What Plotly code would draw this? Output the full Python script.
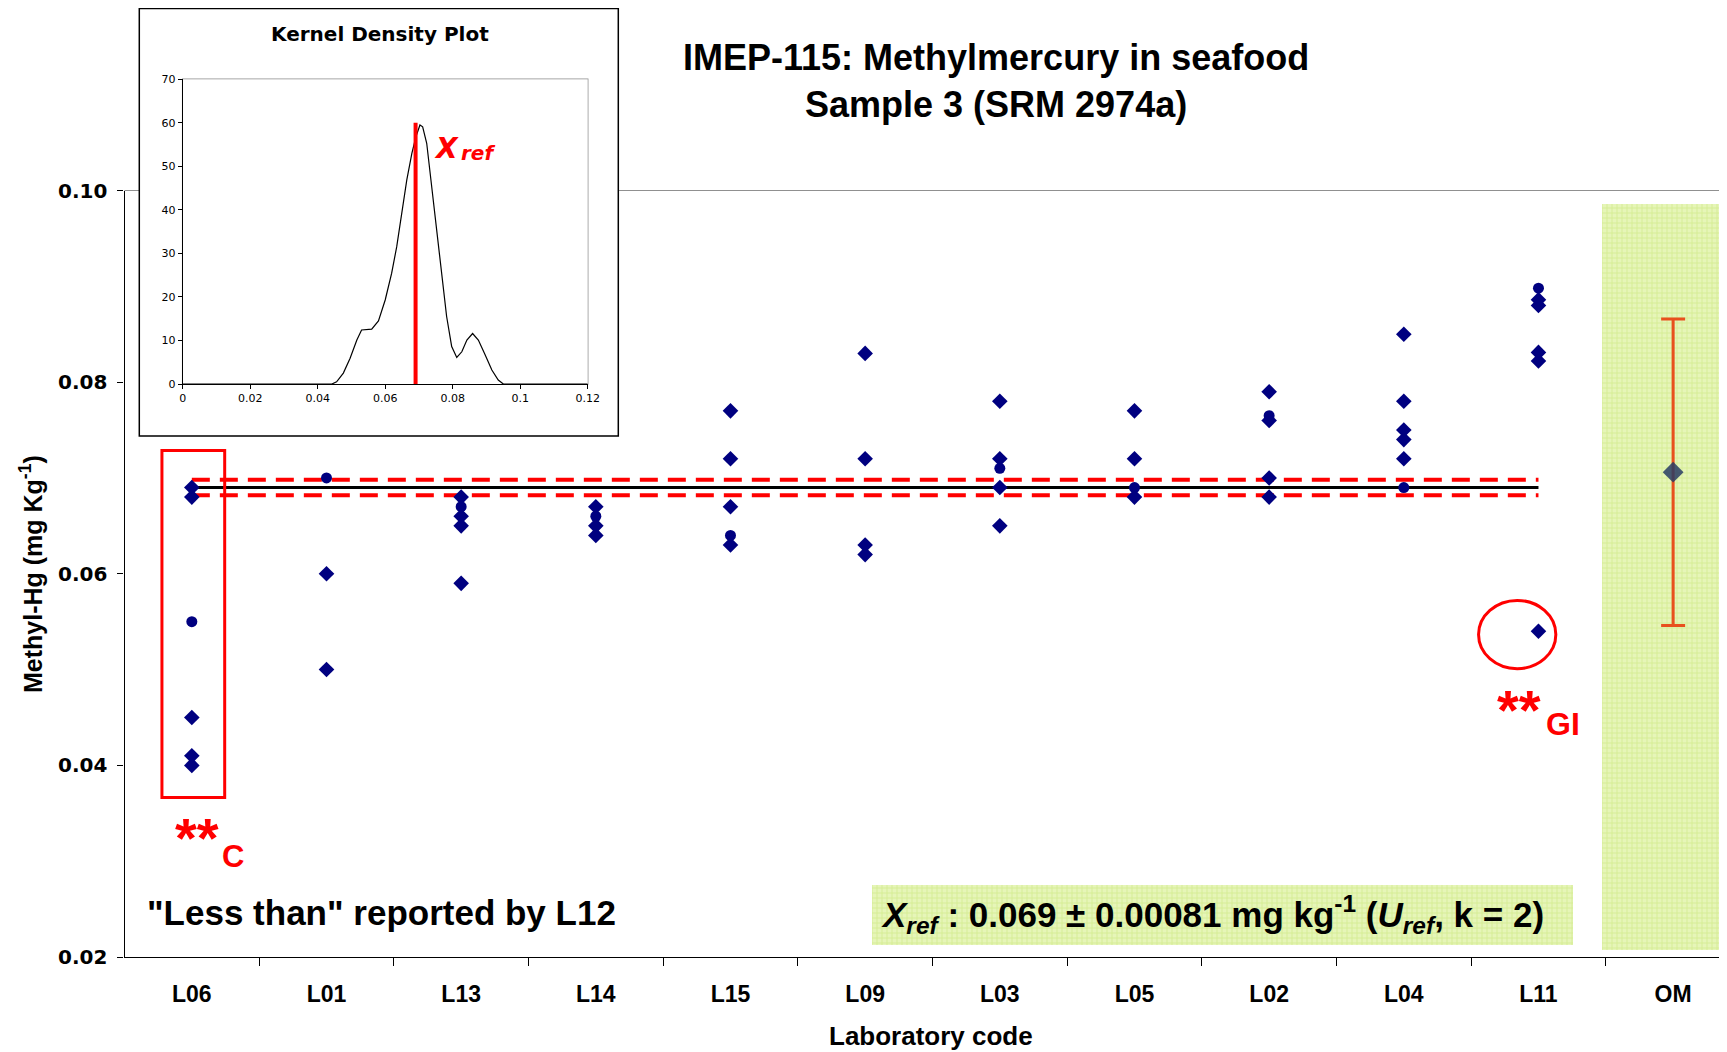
import plotly.graph_objects as go

# ---------------- data ----------------
labs = ["L06", "L01", "L13", "L14", "L15", "L09", "L03", "L05", "L02", "L04", "L11", "OM"]

# replicate results plotted as diamonds (one list per laboratory, OM excluded)
diamond_vals = [
    [0.069, 0.068, 0.045, 0.041, 0.040],
    [0.060, 0.050],
    [0.068, 0.066, 0.065, 0.059],
    [0.067, 0.065, 0.064],
    [0.077, 0.072, 0.067, 0.063],
    [0.083, 0.072, 0.063, 0.062],
    [0.078, 0.072, 0.069, 0.065],
    [0.077, 0.072, 0.068],
    [0.079, 0.076, 0.070, 0.068],
    [0.085, 0.078, 0.075, 0.074, 0.072],
    [0.0886, 0.0880, 0.0831, 0.0822, 0.054],
]
# results plotted as circles
circle_vals = [[0.055], [0.070], [0.067], [0.066], [0.064], [], [0.071], [0.069], [0.0765], [0.069], [0.0898]]

x_ref = 0.069
u_ref = 0.00081
om_value = 0.0706
om_error = 0.016

# kernel density (inset)
kde_x = [0.0, 0.0442, 0.0456, 0.0476, 0.0496, 0.0516, 0.0530, 0.0560, 0.0580, 0.0600, 0.0619,
         0.0634, 0.0649, 0.0664, 0.0679, 0.0691, 0.0703, 0.0711, 0.0723, 0.0738, 0.0753,
         0.0767, 0.0782, 0.0797, 0.0812, 0.0827, 0.0842, 0.0859, 0.0876, 0.0896, 0.0916,
         0.0935, 0.0950, 0.12]
kde_y = [0.0, 0.0, 0.5, 2.5, 5.9, 10.1, 12.4, 12.6, 14.5, 19.3, 25.4,
         31.5, 39.2, 46.9, 53.0, 56.8, 59.5, 59.1, 55.3, 45.3, 36.1,
         25.4, 15.5, 8.6, 6.1, 7.4, 10.1, 11.6, 10.1, 6.7, 3.2,
         0.9, 0.0, 0.0]
kde_xticks = [0, 0.02, 0.04, 0.06, 0.08, 0.1, 0.12]
kde_xticktext = ["0", "0.02", "0.04", "0.06", "0.08", "0.1", "0.12"]
kde_yticks = [0, 10, 20, 30, 40, 50, 60, 70]
y_ticks = [0.02, 0.04, 0.06, 0.08, 0.10]
y_ticktext = ["0.02", "0.04", "0.06", "0.08", "0.10"]

# ---------------- figure geometry ----------------
OFF = 8                      # page body margin
W, H = 1727 - OFF, 1052 - OFF


def xp(px):
    return (px - OFF) / W


def yp(py):
    return (H - (py - OFF)) / H


NAVY = "#000080"
RED = "#FF0000"
NARROW = "Liberation Sans Narrow, Arial Narrow, Liberation Sans, Arial"
ARIAL = "Liberation Sans, Arial"
VERD = "DejaVu Sans, Verdana"

fig = go.Figure()

lab_idx = {l: i for i, l in enumerate(labs)}
hatch = dict(color="#e4f4b4", line=dict(width=0),
             pattern=dict(shape="+", fgcolor="#bfe06a", bgcolor="#e6f5b8", size=5, solidity=0.3))

# OM green band (hatched)
fig.add_trace(go.Bar(x=[10.94], y=[0.0986 - 0.0208], base=[0.0208], width=[0.94],
                     marker=hatch, hoverinfo="skip", showlegend=False))
# Xref box (hatched)
fig.add_trace(go.Bar(x=[7.65], y=[0.02756 - 0.02135], base=[0.02135], width=[5.205],
                     marker=hatch, hoverinfo="skip", showlegend=False))

# reference value lines
n_lab = len(diamond_vals)
fig.add_trace(go.Scatter(x=[0, n_lab - 1], y=[x_ref, x_ref], mode="lines",
                         line=dict(color="black", width=3), hoverinfo="skip", showlegend=False))
for s in (1, -1):
    fig.add_trace(go.Scatter(x=[0, n_lab - 1], y=[x_ref + s * u_ref] * 2, mode="lines",
                             line=dict(color=RED, width=4, dash="18px,10px"),
                             hoverinfo="skip", showlegend=False))

# diamonds
dx, dy = [], []
for i, vals in enumerate(diamond_vals):
    for v in vals:
        dx.append(i)
        dy.append(v)
fig.add_trace(go.Scatter(x=dx, y=dy, mode="markers",
                         marker=dict(symbol="diamond", size=12, color=NAVY), showlegend=False))
# circles
cx, cy = [], []
for i, vals in enumerate(circle_vals):
    for v in vals:
        cx.append(i)
        cy.append(v)
fig.add_trace(go.Scatter(x=cx, y=cy, mode="markers",
                         marker=dict(symbol="circle", size=11, color=NAVY), showlegend=False))
# OM with error bar
fig.add_trace(go.Scatter(x=[lab_idx["OM"]], y=[om_value], mode="markers",
                         marker=dict(symbol="diamond", size=16, color="rgba(40,60,100,0.85)"),
                         error_y=dict(type="data", array=[om_error], color="#E8501E",
                                      thickness=3, width=12),
                         showlegend=False))

# inset kernel density
fig.add_trace(go.Scatter(x=kde_x, y=kde_y, mode="lines", line=dict(color="black", width=1.2),
                         xaxis="x2", yaxis="y2", showlegend=False, hoverinfo="skip"))
fig.add_trace(go.Scatter(x=[x_ref, x_ref], y=[0, 60], mode="lines", line=dict(color=RED, width=4),
                         xaxis="x2", yaxis="y2", showlegend=False, hoverinfo="skip"))

# ---------------- layout ----------------
x_dom = [xp(124.5), 1.0]
y_dom = [yp(957), yp(190.5)]
ix_dom = [xp(182.7), xp(587.7)]
iy_dom = [yp(384), yp(79.3)]

shapes = [
    dict(type="line", xref="paper", yref="paper", x0=x_dom[0], x1=1, y0=y_dom[1], y1=y_dom[1],
         line=dict(color="#909090", width=1.2), layer="below"),
    dict(type="rect", xref="paper", yref="paper", x0=xp(139.3), x1=xp(618.3),
         y0=yp(436), y1=min(1.0, yp(8.5)), fillcolor="white",
         line=dict(color="black", width=1.5), layer="below"),
    dict(type="rect", xref="paper", yref="paper", x0=ix_dom[0], x1=ix_dom[1],
         y0=iy_dom[0], y1=iy_dom[1], line=dict(color="#909090", width=1.5), layer="below"),
    dict(type="rect", xref="x", yref="y", x0=-0.222, x1=0.244, y0=0.03664, y1=0.07286,
         line=dict(color=RED, width=3)),
    dict(type="circle", xref="x", yref="y", x0=9.555, x1=10.129, y0=0.05009, y1=0.05722,
         line=dict(color=RED, width=3)),
]


def ann(text, x, y, size, family, color="black", xref="paper", yref="paper",
        xanchor="center", yanchor="middle", **kw):
    return dict(text=text, x=x, y=y, xref=xref, yref=yref, showarrow=False,
                xanchor=xanchor, yanchor=yanchor,
                font=dict(family=family, size=size, color=color), **kw)


annotations = [
    ann("<b>IMEP-115: Methylmercury in seafood</b><br><b>Sample 3 (SRM 2974a)</b>",
        xp(996), yp(81), 36, NARROW),
    ann("<b>Kernel Density Plot</b>", xp(380), yp(34), 20, VERD),
    ann("<b><i>X</i></b>", 0.0739, 54.2, 28, VERD, RED, "x2", "y2", xanchor="left"),
    ann("<b><i>ref</i></b>", 0.0818, 53.0, 20, VERD, RED, "x2", "y2", xanchor="left"),
    ann("<b>Methyl-Hg (mg Kg<sup>-1</sup>)</b>", xp(31), yp(574), 25, NARROW, textangle=-90),
    ann("<b>Laboratory code</b>", xp(931), yp(1036), 26, NARROW),
    ann("<b>\"Less than\" reported by L12</b>", -0.348, 0.0246, 35, ARIAL,
        xref="x", yref="y", xanchor="left"),
    ann("<b><i>X</i><sub><i>ref</i></sub> : 0.069 \u00b1 0.00081 mg kg<sup>-1</sup> "
        "(<i>U</i><sub><i>ref</i></sub>, k = 2)</b>", 7.58, 0.0244, 35, NARROW, xref="x", yref="y"),
    ann("<b>**</b>", 0.038, 0.0325, 56, ARIAL, RED, "x", "y"),
    ann("<b>C</b>", 0.305, 0.0305, 31, ARIAL, RED, "x", "y"),
    ann("<b>**</b>", 9.855, 0.0458, 56, ARIAL, RED, "x", "y"),
    ann("<b>GI</b>", 10.18, 0.04435, 32, ARIAL, RED, "x", "y"),
]

fig.update_layout(
    width=W, height=H,
    margin=dict(l=0, r=0, t=0, b=0, autoexpand=False),
    paper_bgcolor="white", plot_bgcolor="white",
    showlegend=False,
    bargap=0,
    xaxis=dict(domain=x_dom, range=[-0.5, 11.4], anchor="y", automargin=False,
               tickmode="array", tickvals=list(range(len(labs))), ticktext=labs,
               ticks="", showgrid=False, zeroline=False,
               showline=True, linecolor="black", linewidth=1.2,
               tickfont=dict(family=NARROW, size=23, color="black", weight="bold"),
               ticklabelstandoff=16,
               minor=dict(tickmode="array", tickvals=[i + 0.5 for i in range(len(labs) - 1)],
                          ticks="outside", ticklen=8, tickcolor="black", tickwidth=1, showgrid=False)),
    yaxis=dict(domain=y_dom, range=[0.02, 0.10], anchor="x", automargin=False,
               tickmode="array", tickvals=y_ticks, ticktext=y_ticktext,
               ticks="outside", ticklen=6, tickcolor="black",
               showgrid=False, zeroline=False,
               showline=True, linecolor="black", linewidth=1.2,
               tickfont=dict(family=VERD, size=20, color="black", weight="bold"),
               ticklabelstandoff=6),
    xaxis2=dict(domain=ix_dom, range=[0, 0.12], anchor="y2", automargin=False,
                tickmode="array", tickvals=kde_xticks, ticktext=kde_xticktext,
                ticks="outside", ticklen=4, tickcolor="black",
                showgrid=False, zeroline=False, showline=True, linecolor="black", linewidth=1.2,
                tickfont=dict(family=VERD, size=11, color="black")),
    yaxis2=dict(domain=iy_dom, range=[0, 70], anchor="x2", automargin=False,
                tickmode="array", tickvals=kde_yticks,
                ticks="outside", ticklen=4, tickcolor="black",
                showgrid=False, zeroline=False, showline=True, linecolor="black", linewidth=1.2,
                tickfont=dict(family=VERD, size=11, color="black")),
    shapes=shapes,
    annotations=annotations,
)

fig.write_html("out.html")
